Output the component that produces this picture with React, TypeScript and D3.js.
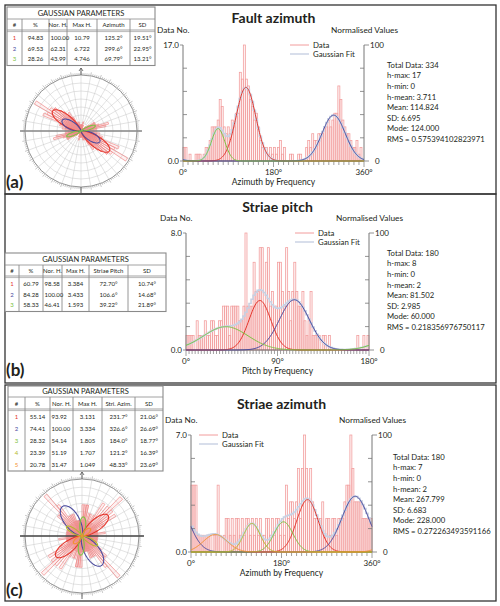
import React from "react";
import * as d3 from "d3";

// ---------------- DATA ----------------
// Fault azimuth histogram, 4° bins (0–360)
const faultCounts = [
  2, 2, 0, 1, 0, 0, 1, 1, 1, 0,
  1, 2, 2, 3, 5, 5, 5, 6, 9, 8,
  5, 4, 5, 4, 6, 5, 7, 7, 13, 12,
  17, 12, 11, 9, 8, 6, 7, 5, 3, 2,
  2, 2, 1, 2, 1, 2, 1, 2, 3, 1,
  2, 0, 0, 1, 1, 0, 0, 1, 1, 0,
  0, 2, 3, 2, 4, 3, 3, 4, 4, 4,
  5, 5, 6, 5, 6, 7, 7, 11, 9, 6,
  5, 4, 4, 3, 2, 2, 3, 1, 2, 0,
];
// Striae pitch histogram, 2° bins (0–180)
const pitchCounts = [
  1, 1, 1, 1, 0, 2, 1, 1, 1, 2,
  1, 1, 2, 2, 1, 1, 2, 2, 3, 3,
  3, 1, 3, 3, 3, 3, 2, 2, 3, 8,
  3, 3, 3, 6, 4, 4, 7, 7, 3, 6,
  7, 3, 4, 3, 3, 6, 6, 4, 3, 7,
  4, 2, 4, 6, 4, 3, 3, 4, 2, 1,
  2, 4, 1, 1, 1, 1, 0, 1, 1, 0,
  1, 0, 0, 0, 0, 0, 0, 0, 0, 0,
  0, 0, 0, 0, 1, 0, 0, 1, 0, 1,
];
// Striae azimuth histogram, 4° bins (0–360)
const striaeCounts = [
  4, 4, 4, 1, 1, 1, 1, 1, 1, 1,
  0, 1, 1, 4, 1, 0, 1, 2, 2, 1,
  2, 1, 2, 2, 1, 2, 1, 2, 2, 1,
  2, 1, 2, 1, 2, 1, 1, 2, 2, 1,
  2, 1, 2, 2, 1, 2, 1, 4, 2, 3,
  3, 2, 3, 5, 2, 5, 7, 5, 3, 5,
  3, 2, 2, 2, 2, 3, 1, 2, 2, 1,
  2, 2, 1, 2, 2, 2, 3, 4, 4, 7,
  5, 3, 3, 3, 3, 2, 2, 2, 2, 2,
];

// Gaussian parameters
const faultPct = [94.83, 69.53, 28.26];
const faultNorH = [100.0, 62.31, 43.99];
const faultMaxH = [10.79, 6.722, 4.746];
const faultMu = [125.2, 299.6, 69.79];
const faultSd = [19.51, 22.95, 13.21];

const pitchPct = [60.79, 84.28, 58.33];
const pitchNorH = [98.58, 100.0, 46.41];
const pitchMaxH = [3.384, 3.433, 1.593];
const pitchMu = [72.7, 106.6, 39.22];
const pitchSd = [10.74, 14.68, 21.89];

const striaePct = [55.14, 74.41, 28.32, 23.39, 20.78];
const striaeNorH = [93.92, 100.0, 54.14, 51.19, 31.47];
const striaeMaxH = [3.131, 3.334, 1.805, 1.707, 1.049];
const striaeMu = [231.7, 326.6, 184.0, 121.2, 48.33];
const striaeSd = [21.06, 26.69, 18.77, 16.39, 23.69];

const faultStats = ["Total Data: 334", "h-max: 17", "h-min: 0", "h-mean: 3.711", "Mean: 114.824", "SD: 6.695", "Mode: 124.000", "RMS = 0.575394102823971"];
const pitchStats = ["Total Data: 180", "h-max: 8", "h-min: 0", "h-mean: 2", "Mean: 81.502", "SD: 2.985", "Mode: 60.000", "RMS = 0.218356976750117"];
const striaeStats = ["Total Data: 180", "h-max: 7", "h-min: 0", "h-mean: 2", "Mean: 267.799", "SD: 6.683", "Mode: 228.000", "RMS = 0.272263493591166"];

const faultHeaders = ["#", "%", "Nor. H.", "Max H.", "Azimuth", "SD"];
const pitchHeaders = ["#", "%", "Nor. H.", "Max H.", "Striae Pitch", "SD"];
const striaeHeaders = ["#", "%", "Nor. H.", "Max H.", "Stri. Azim.", "SD"];

const faultXLabels = ["0°", "180°", "360°"];
const pitchXLabels = ["0°", "90°", "180°"];
const striaeXLabels = ["0°", "180°", "360°"];

// ---------------- STYLE ----------------
const FONT = "Lato, 'Open Sans', sans-serif";
const TXT = "#231f20";
const GCOL = ["#e5352b", "#4b4b9e", "#7dc242", "#b5b92c", "#f3912f"];
const DATA_COL = "#f29c9c";
const FIT_COL = "#c8d0e2";

function wrapGauss(t: number, mu: number, sd: number, h: number, period: number) {
  let s = 0;
  for (let k = -2; k <= 2; k++) {
    const d = t - (mu + k * period);
    s += Math.exp(-(d * d) / (2 * sd * sd));
  }
  return h * s;
}

type HistProps = {
  x0: number; x1: number; yTop: number; yBot: number;
  domainMax: number; yMax: number; bw: number; period: number;
  counts: number[]; maxH: number[]; mu: number[]; sd: number[];
  tickStep: number; xLabels: string[]; xTitle: string;
  title: string; titleY: number;
  legendX: number; legendY: number;
  statsX: number; statsY: number; stats: string[];
};

function Histogram(p: HistProps) {
  const x = d3.scaleLinear().domain([0, p.domainMax]).range([p.x0, p.x1]);
  const y = d3.scaleLinear().domain([0, p.yMax]).range([p.yBot, p.yTop]);
  const centers = p.counts.map((_, i) => (i + 0.5) * p.bw);
  const sumAt = (t: number) => d3.sum(p.mu.map((m, i) => wrapGauss(t, m, p.sd[i], p.maxH[i], p.period)));
  const fitPts: [number, number][] = centers.map((t) => [t, sumAt(t)]);
  fitPts.unshift([0, fitPts[0][1]]);
  fitPts.push([p.domainMax, fitPts[fitPts.length - 1][1]]);
  const fitLine = d3.line<[number, number]>().x((d) => x(d[0])).y((d) => y(d[1])).curve(d3.curveStep);
  const degs = d3.range(0, p.domainMax + 0.001, 1);
  const compLine = d3.line<number>().x((t) => x(t));
  const yTicks = d3.range(0, 6).map((i) => (i * p.yMax) / 5);
  const xTicks = d3.range(0, p.domainMax + 0.001, p.tickStep);
  const mid = (p.x0 + p.x1) / 2;
  return (
    <g>
      <text x={mid} y={p.titleY} textAnchor="middle" fontSize={14} fontWeight="bold" fill={TXT}>{p.title}</text>
      <text x={p.x0 - 26} y={p.yTop - 12} fontSize={8.3} fill={TXT}>Data No.</text>
      <text x={p.x1 + 34} y={p.yTop - 12} fontSize={8.3} fill={TXT} textAnchor="end">Normalised Values</text>
      {/* histogram bars */}
      {p.counts.map((c, i) =>
        c > 0 ? (
          <rect key={i} x={x(i * p.bw)} y={y(c)} width={x(p.bw) - x(0)} height={y(0) - y(c)}
            fill="#fbdede" fillOpacity={0.35} stroke={DATA_COL} strokeWidth={0.75} />
        ) : null
      )}
      {/* gaussian fit */}
      <path d={fitLine(fitPts) || ""} fill="none" stroke={FIT_COL} strokeWidth={1.6} />
      {/* axes */}
      <line x1={p.x0} x2={p.x1} y1={p.yBot} y2={p.yBot} stroke="#666" strokeWidth={1} />
      <line x1={p.x0} x2={p.x0} y1={p.yTop} y2={p.yBot} stroke="#777" strokeWidth={1} />
      <line x1={p.x1} x2={p.x1} y1={p.yTop} y2={p.yBot} stroke="#777" strokeWidth={1} />
      {yTicks.map((v, i) => (
        <g key={i}>
          {i > 0 && i < 5 ? (
            <>
              <line x1={p.x0} x2={p.x0 + 4} y1={y(v)} y2={y(v)} stroke="#777" strokeWidth={0.8} />
              <line x1={p.x1} x2={p.x1 - 4} y1={y(v)} y2={y(v)} stroke="#777" strokeWidth={0.8} />
            </>
          ) : (
            <>
              <line x1={p.x0} x2={p.x0 - 3} y1={y(v)} y2={y(v)} stroke="#777" strokeWidth={0.8} />
              <line x1={p.x1} x2={p.x1 + 5} y1={y(v)} y2={y(v)} stroke="#777" strokeWidth={0.8} />
            </>
          )}
        </g>
      ))}
      <text x={p.x0 - 4} y={y(p.yMax) + 3} textAnchor="end" fontSize={8} fill={TXT}>{p.yMax.toFixed(1)}</text>
      <text x={p.x0 - 4} y={y(0) + 3} textAnchor="end" fontSize={8} fill={TXT}>0.0</text>
      <text x={p.x1 + 6} y={y(p.yMax) + 3} fontSize={8} fill={TXT}>100</text>
      <text x={p.x1 + 11} y={y(0) + 3} fontSize={8} fill={TXT}>0</text>
      {xTicks.map((t, i) => (
        <line key={i} x1={x(t)} x2={x(t)} y1={p.yBot} y2={p.yBot + (i === 0 || t === p.domainMax / 2 || t === p.domainMax ? 6 : 4)}
          stroke="#888" strokeWidth={0.8} />
      ))}
      {/* component curves */}
      {p.mu.map((m, i) => (
        <path key={i}
          d={compLine.y((t) => y(wrapGauss(t, m, p.sd[i], p.maxH[i], p.period)))(degs) || ""}
          fill="none" stroke={GCOL[i]} strokeWidth={1} />
      ))}
      {/* x labels */}
      {p.xLabels.map((l, i) => (
        <text key={i} x={x((i * p.domainMax) / 2)} y={p.yBot + 14} textAnchor="middle" fontSize={8} fill={TXT}>{l}</text>
      ))}
      <text x={mid} y={p.yBot + 24} textAnchor="middle" fontSize={8.5} fill={TXT}>{p.xTitle}</text>
      {/* legend */}
      <line x1={p.legendX} x2={p.legendX + 19} y1={p.legendY} y2={p.legendY} stroke={DATA_COL} strokeWidth={1} />
      <text x={p.legendX + 23} y={p.legendY + 2.8} fontSize={7.8} fill={TXT}>Data</text>
      <line x1={p.legendX} x2={p.legendX + 19} y1={p.legendY + 9} y2={p.legendY + 9} stroke={FIT_COL} strokeWidth={1.4} />
      <text x={p.legendX + 23} y={p.legendY + 11.8} fontSize={7.8} fill={TXT}>Gaussian Fit</text>
      {/* stats */}
      {p.stats.map((s, i) => (
        <text key={i} x={p.statsX} y={p.statsY + i * 10.6} fontSize={7.7} fill={TXT}>{s}</text>
      ))}
    </g>
  );
}

type TableProps = {
  edges: number[]; top: number; titleH: number; headH: number; rowH: number; padTop: number;
  headers: string[]; pct: number[]; norH: number[]; maxH: number[]; mu: number[]; sd: number[];
};

function ParamTable(p: TableProps) {
  const left = p.edges[0];
  const right = p.edges[p.edges.length - 1];
  const hTop = p.top + p.titleH;
  const dTop = hTop + p.headH;
  const n = p.pct.length;
  const bottom = dTop + p.padTop + n * p.rowH + 2;
  const rows = p.pct.map((_, i) => [
    String(i + 1),
    p.pct[i].toFixed(2),
    p.norH[i].toFixed(2),
    p.maxH[i].toPrecision(4),
    p.mu[i].toPrecision(4) + "°",
    p.sd[i].toPrecision(4) + "°",
  ]);
  const lc = "#8a8a8a";
  return (
    <g>
      <rect x={left} y={p.top} width={right - left} height={bottom - p.top} fill="#fff" stroke={lc} strokeWidth={1.1} />
      <line x1={left} x2={right} y1={hTop} y2={hTop} stroke={lc} strokeWidth={0.8} />
      <line x1={left} x2={right} y1={dTop} y2={dTop} stroke={lc} strokeWidth={0.8} />
      <line x1={left} x2={right} y1={dTop + 1.6} y2={dTop + 1.6} stroke={lc} strokeWidth={0.6} />
      {p.edges.slice(1, -1).map((e, i) => (
        <line key={i} x1={e} x2={e} y1={hTop} y2={bottom} stroke={lc} strokeWidth={0.9} />
      ))}
      <text x={(left + right) / 2} y={p.top + p.titleH - 2.8} textAnchor="middle" fontSize={7.5} fill={TXT}>GAUSSIAN PARAMETERS</text>
      {p.headers.map((h, i) => (
        <text key={i} x={(p.edges[i] + p.edges[i + 1]) / 2} y={hTop + p.headH - 3} textAnchor="middle" fontSize={6} fill={TXT}>{h}</text>
      ))}
      {rows.map((r, ri) =>
        r.map((v, ci) => (
          <text key={ri + "-" + ci}
            x={ci === 2 ? p.edges[ci] + 1.5 : (p.edges[ci] + p.edges[ci + 1]) / 2}
            y={dTop + p.padTop + (ri + 1) * p.rowH - 2.5}
            textAnchor={ci === 2 ? "start" : "middle"} fontSize={6}
            fill={ci === 0 ? GCOL[ri] : TXT}>{v}</text>
        ))
      )}
    </g>
  );
}

type RoseProps = {
  cx: number; cy: number; R: number; counts: number[]; bw: number; hMax: number;
  norH: number[]; mu: number[]; sd: number[]; axisCol: string;
};

function axial(t: number, mu: number, sd: number) {
  let s = 0;
  for (let k = -3; k <= 3; k++) {
    const d = t - (mu + k * 180);
    s += Math.exp(-(d * d) / (2 * sd * sd));
  }
  return s;
}

function Rose(p: RoseProps) {
  const toRad = Math.PI / 180;
  const rS = d3.scaleLinear().domain([0, p.hMax]).range([0, p.R * 0.96]);
  const arc = d3.arc<any>();
  const sectors: string[] = [];
  p.counts.forEach((c, i) => {
    if (c > 0) {
      [0, 180].forEach((off) => {
        sectors.push(
          arc({ innerRadius: 0, outerRadius: rS(c), startAngle: (i * p.bw + off) * toRad, endAngle: ((i + 1) * p.bw + off) * toRad }) || ""
        );
      });
    }
  });
  const petalMax = p.R * 0.62;
  const angles = d3.range(0, 360, 1);
  const rings = d3.range(1, 7).map((i) => (p.R * i) / 7);
  const spokes = d3.range(0, 360, 10);
  const ticks = d3.range(0, 360, 2);
  return (
    <g transform={`translate(${p.cx},${p.cy})`}>
      <circle r={p.R} fill="#fff" stroke="#8a8a8a" strokeWidth={0.9} />
      {rings.map((r, i) => (
        <circle key={i} r={r} fill="none" stroke="#c6c6c6" strokeWidth={0.5} />
      ))}
      {spokes.map((a, i) => (
        <line key={i} x1={Math.sin(a * toRad) * (p.R / 7)} y1={-Math.cos(a * toRad) * (p.R / 7)}
          x2={Math.sin(a * toRad) * p.R} y2={-Math.cos(a * toRad) * p.R} stroke="#c6c6c6" strokeWidth={0.5} />
      ))}
      {ticks.map((a, i) => {
        const len = a % 10 === 0 ? 3.5 : 2;
        return (
          <line key={i} x1={Math.sin(a * toRad) * p.R} y1={-Math.cos(a * toRad) * p.R}
            x2={Math.sin(a * toRad) * (p.R + len)} y2={-Math.cos(a * toRad) * (p.R + len)} stroke="#888" strokeWidth={0.5} />
        );
      })}
      <line x1={0} x2={0} y1={-p.R} y2={-p.R - 7} stroke="#555" strokeWidth={0.9} />
      <path d={`M-2,${-p.R - 4} L0,${-p.R - 7} L2,${-p.R - 4}`} fill="none" stroke="#555" strokeWidth={0.8} />
      <line x1={0} x2={0} y1={p.R} y2={p.R + 6} stroke="#555" strokeWidth={0.9} />
      {sectors.map((d, i) => (
        <path key={i} d={d} fill="#f9cccc" fillOpacity={0.3} stroke="#ef8a8a" strokeWidth={0.7} />
      ))}
      <line x1={-p.R - 5} x2={p.R + 5} y1={0} y2={0} stroke={p.axisCol} strokeWidth={1.3} />
      {p.mu.map((m, i) => (
        <path key={i}
          d={d3.lineRadial<number>().angle((t) => t * toRad).radius((t) => (petalMax * p.norH[i]) / 100 * axial(t, m, p.sd[i] * 0.78)).curve(d3.curveLinearClosed)(angles) || ""}
          fill="none" stroke={GCOL[i]} strokeWidth={1.1} />
      ))}
    </g>
  );
}

export default function App() {
  return (
    <svg width={500} height={606} style={{ position: "absolute", left: 0, top: 0, background: "#fff" }} fontFamily={FONT}>
      <rect x={0} y={0} width={500} height={606} fill="#fff" />
      {/* panel frames */}
      <rect x={5} y={5} width={491} height={189} fill="none" stroke="#333" strokeWidth={1.3} />
      <rect x={5} y={194} width={491} height={189} fill="none" stroke="#333" strokeWidth={1.3} />
      <rect x={5} y={385} width={491} height={216} fill="none" stroke="#333" strokeWidth={1.3} />

      {/* Panel (a) */}
      <ParamTable edges={[7, 22, 49, 67, 97, 130, 155]} top={7} titleH={12} headH={11} rowH={10.5} padTop={2}
        headers={faultHeaders} pct={faultPct} norH={faultNorH} maxH={faultMaxH} mu={faultMu} sd={faultSd} />
      <Rose cx={81} cy={131} R={56} counts={faultCounts} bw={4} hMax={17}
        norH={faultNorH} mu={faultMu} sd={faultSd} axisCol="#888" />
      <text x={6} y={188} fontSize={17} fontWeight="bold" fill={TXT}>(a)</text>
      <Histogram x0={183} x1={364} yTop={45} yBot={161} domainMax={360} yMax={17} bw={4} period={360}
        counts={faultCounts} maxH={faultMaxH} mu={faultMu} sd={faultSd} tickStep={10}
        xLabels={faultXLabels} xTitle="Azimuth by Frequency" title="Fault azimuth" titleY={23}
        legendX={290} legendY={45} statsX={387} statsY={67.7} stats={faultStats} />

      {/* Panel (b) */}
      <ParamTable edges={[5, 19, 43, 62, 89, 128, 166]} top={253} titleH={12} headH={11} rowH={10.5} padTop={2}
        headers={pitchHeaders} pct={pitchPct} norH={pitchNorH} maxH={pitchMaxH} mu={pitchMu} sd={pitchSd} />
      <text x={6} y={376} fontSize={17} fontWeight="bold" fill={TXT}>(b)</text>
      <Histogram x0={186} x1={369} yTop={233} yBot={350} domainMax={180} yMax={8} bw={2} period={180}
        counts={pitchCounts} maxH={pitchMaxH} mu={pitchMu} sd={pitchSd} tickStep={3}
        xLabels={pitchXLabels} xTitle="Pitch by Frequency" title="Striae pitch" titleY={212}
        legendX={295} legendY={233} statsX={387} statsY={255.7} stats={pitchStats} />

      {/* Panel (c) */}
      <ParamTable edges={[8, 25, 50, 73, 102, 135, 163]} top={386} titleH={11} headH={12} rowH={12} padTop={0}
        headers={striaeHeaders} pct={striaePct} norH={striaeNorH} maxH={striaeMaxH} mu={striaeMu} sd={striaeSd} />
      <Rose cx={82} cy={536} R={57} counts={striaeCounts} bw={4} hMax={7}
        norH={striaeNorH} mu={striaeMu} sd={striaeSd} axisCol="#444" />
      <text x={6} y={596} fontSize={17} fontWeight="bold" fill={TXT}>(c)</text>
      <Histogram x0={191} x1={372} yTop={435} yBot={552} domainMax={360} yMax={7} bw={4} period={360}
        counts={striaeCounts} maxH={striaeMaxH} mu={striaeMu} sd={striaeSd} tickStep={10}
        xLabels={striaeXLabels} xTitle="Azimuth by Frequency" title="Striae azimuth" titleY={409}
        legendX={199} legendY={435} statsX={393} statsY={459.7} stats={striaeStats} />
    </svg>
  );
}
